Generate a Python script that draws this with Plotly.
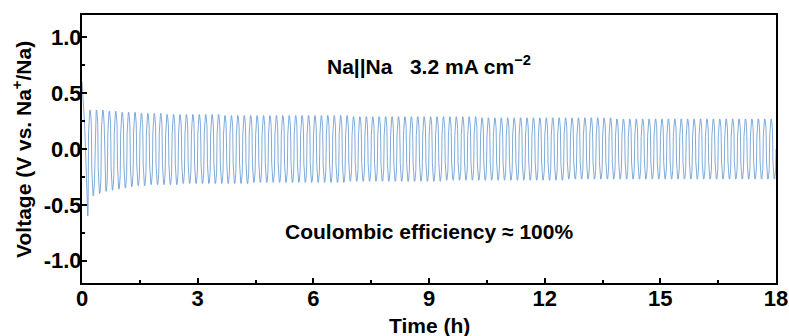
import numpy as np
import plotly.graph_objects as go

# ---- data ----
cycle_hours = 1.0 / 6.0          # one plating/stripping cycle (10 min)
n_cycles = 108
x_ticks = [0, 3, 6, 9, 12, 15, 18]
y_ticks = [-1.0, -0.5, 0.0, 0.5, 1.0]

peak_v = [0.60, 0.35, 0.35, 0.35, 0.34, 0.34, 0.33, 0.33, 0.33, 0.32,
          0.32, 0.32, 0.32, 0.31, 0.31, 0.31, 0.31, 0.31, 0.31, 0.31,
          0.31, 0.31, 0.30, 0.30, 0.30, 0.30, 0.30, 0.30, 0.30, 0.30,
          0.30, 0.30, 0.30, 0.30, 0.30, 0.30, 0.30, 0.30, 0.30, 0.30,
          0.30, 0.30, 0.29, 0.29, 0.29, 0.29, 0.29, 0.29, 0.29, 0.29,
          0.29, 0.29, 0.29, 0.29, 0.29, 0.29, 0.29, 0.29, 0.29, 0.29,
          0.29, 0.29, 0.28, 0.28, 0.28, 0.28, 0.28, 0.28, 0.28, 0.28,
          0.28, 0.28, 0.28, 0.28, 0.28, 0.28, 0.28, 0.28, 0.28, 0.28,
          0.28, 0.28, 0.28, 0.27, 0.27, 0.27, 0.27, 0.27, 0.27, 0.27,
          0.27, 0.27, 0.27, 0.27, 0.27, 0.27, 0.27, 0.27, 0.27, 0.27,
          0.27, 0.27, 0.27, 0.27, 0.27, 0.27, 0.27, 0.27]
trough_v = [-0.60, -0.42, -0.40, -0.38, -0.37, -0.36, -0.35, -0.34, -0.33, -0.33,
            -0.32, -0.32, -0.32, -0.32, -0.32, -0.31, -0.31, -0.31, -0.31, -0.31,
            -0.31, -0.31, -0.31, -0.31, -0.31, -0.31, -0.30, -0.30, -0.30, -0.30,
            -0.30, -0.30, -0.30, -0.30, -0.30, -0.30, -0.30, -0.30, -0.30, -0.30,
            -0.30, -0.29, -0.29, -0.29, -0.29, -0.29, -0.29, -0.29, -0.29, -0.29,
            -0.29, -0.29, -0.29, -0.29, -0.29, -0.29, -0.28, -0.28, -0.28, -0.28,
            -0.28, -0.28, -0.28, -0.28, -0.28, -0.28, -0.28, -0.28, -0.28, -0.28,
            -0.28, -0.28, -0.28, -0.28, -0.28, -0.27, -0.27, -0.27, -0.27, -0.27,
            -0.27, -0.27, -0.27, -0.27, -0.27, -0.27, -0.27, -0.27, -0.27, -0.27,
            -0.27, -0.27, -0.27, -0.27, -0.27, -0.27, -0.27, -0.27, -0.27, -0.27,
            -0.27, -0.27, -0.27, -0.27, -0.27, -0.27, -0.27, -0.27]

# ---- build the galvanostatic trace from the per-cycle extremes ----
half = cycle_hours / 2
u = np.linspace(0, 1, 30)
t_all, v_all = [], []
for i in range(n_cycles):
    for k, amp in enumerate((peak_v[i], trough_v[i])):
        t0 = i * cycle_hours + k * half
        if i == 0 and k == 0:
            shape = (1 - u) ** 0.6
            shape[-1] = 0
        elif i == 0 and k == 1:
            shape = np.sin(np.pi * u ** 3.0) ** 0.4
        else:
            shape = np.abs(np.sin(np.pi * u)) ** 0.4
        t_all.append(t0 + u * half)
        v_all.append(amp * shape)
t_all = np.concatenate(t_all)
v_all = np.concatenate(v_all)

fig = go.Figure()
fig.add_trace(go.Scatter(x=t_all, y=v_all, mode="lines",
                         line=dict(color="rgb(95,150,208)", width=0.8),
                         showlegend=False))

font_family = "Liberation Sans, Arial, sans-serif"
axis_common = dict(showline=True, linecolor="black", linewidth=2, mirror=True,
                   ticks="inside", ticklen=5, tickwidth=1.5, tickcolor="black",
                   showgrid=False, zeroline=False, automargin=False,
                   tickfont=dict(family=font_family, size=22, color="black", weight="bold"))

fig.update_xaxes(range=[0, 18], tickvals=x_ticks, ticktext=[str(v) for v in x_ticks],
                 ticklabelstandoff=-5,
                 minor=dict(ticks="inside", ticklen=3, tickwidth=1.5, tickcolor="black", dtick=1.5),
                 **axis_common)
fig.update_yaxes(range=[-1.2, 1.2], tickvals=y_ticks, ticktext=["-1.0", "-0.5", "0.0", "0.5", "1.0"],
                 ticklabelstandoff=-6,
                 minor=dict(ticks="inside", ticklen=3, tickwidth=1.5, tickcolor="black",
                            tickvals=[-0.75, -0.25, 0.25, 0.75]),
                 **axis_common)

# axis titles (placed as annotations for exact positioning)
fig.add_annotation(x=0.5, y=-0.157, xref="paper", yref="paper", showarrow=False,
                   xanchor="center", yanchor="middle",
                   text="<b>Time (h)</b>",
                   font=dict(family=font_family, size=21, color="black"))
fig.add_annotation(x=-0.0865, y=0.5, xref="paper", yref="paper", showarrow=False,
                   xanchor="center", yanchor="middle", textangle=-90,
                   text="<b>Voltage (V vs. Na<sup>+</sup>/Na)</b>",
                   font=dict(family=font_family, size=21, color="black"))

fig.add_annotation(x=0.5, y=0.75, xref="paper", yref="y", showarrow=False,
                   text="<b>Na||Na   3.2 mA cm<sup>−2</sup></b>",
                   font=dict(family=font_family, size=21, color="black"))
fig.add_annotation(x=0.5, y=-0.74, xref="paper", yref="y", showarrow=False,
                   text="<b>Coulombic efficiency ≈ 100%</b>",
                   font=dict(family=font_family, size=21, color="black"))

fig.update_layout(width=789, height=336, margin=dict(l=82, r=13, t=15, b=53),
                  paper_bgcolor="white", plot_bgcolor="white")
fig.write_html("out.html")
